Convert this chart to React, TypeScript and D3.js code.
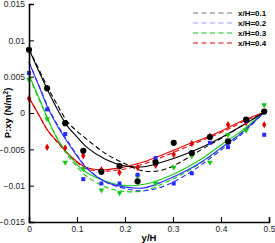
import * as d3 from 'd3'
import {useRef, useEffect} from 'react'

// marker positions along y/H
const markerX = [0, 0.0377, 0.0754, 0.1131, 0.1508, 0.1885, 0.2262, 0.2638, 0.3015, 0.3392, 0.3769, 0.4146, 0.4523, 0.49]
const blackPts = [0.0087, 0.0034, -0.0014, -0.0052, -0.0081, -0.0073, -0.0094, -0.0068, -0.0041, -0.0055, -0.0033, -0.0039, -0.0009, 0.0002]
const bluePts = [0.0055, 0.0005, -0.0029, -0.0091, -0.0097, -0.0097, -0.0085, -0.0062, -0.0097, -0.0083, -0.0041, -0.0047, -0.0011, -0.0030]
const greenPts = [0.0046, -0.0008, -0.0068, -0.0077, -0.0106, -0.0110, -0.0087, -0.0097, -0.0075, -0.0059, -0.0068, -0.0030, -0.0024, 0.0011]
const redPts = [0.0020, -0.0047, -0.0048, -0.0059, -0.0078, -0.0082, -0.0075, -0.0072, -0.0057, -0.0042, -0.0032, -0.0016, -0.0013, -0.0016]

// curve samples along y/H
const curveX = [0, 0.02, 0.04, 0.06, 0.08, 0.1, 0.12, 0.16, 0.2, 0.24, 0.28, 0.32, 0.36, 0.4, 0.44, 0.49]
const blackSolid = [0.0088, 0.0058, 0.0030, 0.0004, -0.0018, -0.0033, -0.0047, -0.0064, -0.0073, -0.0074, -0.0067, -0.0058, -0.0047, -0.0034, -0.0019, 0.0001]
const blackDash = [0.0088, 0.0061, 0.0034, 0.0010, -0.0012, -0.0025, -0.0036, -0.0056, -0.0070, -0.0080, -0.0078, -0.0066, -0.0050, -0.0035, -0.0019, 0.0001]
const blueSolid = [0.0070, 0.0038, 0.0006, -0.0019, -0.0040, -0.0059, -0.0076, -0.0095, -0.0102, -0.0103, -0.0094, -0.0082, -0.0067, -0.0048, -0.0029, 0.0001]
const blueDash = [0.0070, 0.0039, 0.0008, -0.0017, -0.0038, -0.0058, -0.0075, -0.0095, -0.0104, -0.0107, -0.0101, -0.0088, -0.0071, -0.0051, -0.0031, 0.0001]
const greenSolid = [0.0052, 0.0022, -0.0009, -0.0037, -0.0055, -0.0071, -0.0082, -0.0094, -0.0100, -0.0098, -0.0090, -0.0078, -0.0063, -0.0044, -0.0026, 0.0001]
const greenDash = [0.0050, 0.0020, -0.0010, -0.0036, -0.0058, -0.0074, -0.0087, -0.0102, -0.0108, -0.0107, -0.0097, -0.0084, -0.0068, -0.0049, -0.0028, 0.0001]
const redSolid = [0.0021, -0.0002, -0.0025, -0.0040, -0.0055, -0.0067, -0.0075, -0.0078, -0.0074, -0.0067, -0.0057, -0.0046, -0.0036, -0.0025, -0.0012, 0.0001]
const redDash = [0.0021, -0.0002, -0.0025, -0.0041, -0.0056, -0.0068, -0.0077, -0.0080, -0.0077, -0.0070, -0.0060, -0.0049, -0.0038, -0.0027, -0.0014, 0.0001]

const legendLabels = ['x/H=0.1', 'x/H=0.2', 'x/H=0.3', 'x/H=0.4']
const xTicks = [0, 0.1, 0.2, 0.3, 0.4, 0.5]
const yTicks = [-0.015, -0.01, -0.005, 0, 0.005, 0.01, 0.015]

const svgWidth = 275
const svgHeight = 243
const margin = {left: 29, right: 6, top: 4, bottom: 21}
const font = 'Liberation Sans, Arial, sans-serif'

const App: React.FC = () => {
  const svgRef = useRef(null)

  const drawChart = (): void => {
    const SVG = d3.select(svgRef.current)
    SVG.selectAll('*').remove()
    SVG.attr('width', svgWidth).attr('height', svgHeight)

    const xScale = d3.scaleLinear()
      .domain([0, 0.5])
      .range([margin.left, svgWidth - margin.right])
    const yScale = d3.scaleLinear()
      .domain([-0.015, 0.015])
      .range([svgHeight - margin.bottom, margin.top])

    const series = [
      {solid: blackSolid, dash: blackDash, pts: blackPts, color: '#000000', legend: '#777777', sym: d3.symbolCircle, size: 30},
      {solid: blueSolid, dash: blueDash, pts: bluePts, color: '#2a2aff', legend: '#9a9aff', sym: d3.symbolSquare, size: 16},
      {solid: greenSolid, dash: greenDash, pts: greenPts, color: '#14c814', legend: '#14c814', sym: d3.symbolTriangle, size: 14},
      {solid: redSolid, dash: redDash, pts: redPts, color: '#e00000', legend: '#e00000', sym: d3.symbolDiamond, size: 16},
    ]

    const line = d3.line<number>()
      .x((d, i) => xScale(curveX[i]))
      .y(d => yScale(d))
      .curve(d3.curveCatmullRom)

    // curves, drawn back to front
    const plot = SVG.append('g')
    series.slice().reverse().forEach(s => {
      plot.append('path').attr('d', line(s.dash)!).attr('fill', 'none')
        .attr('stroke', s.color).attr('stroke-width', 1.1).attr('stroke-dasharray', '5,3')
      plot.append('path').attr('d', line(s.solid)!).attr('fill', 'none')
        .attr('stroke', s.color).attr('stroke-width', 1.1)
    })

    series.slice().reverse().forEach(s => {
      plot.selectAll(null)
        .data(s.pts)
        .enter()
        .append('path')
        .attr('d', d3.symbol().type(s.sym).size(s.size)()!)
        .attr('transform', (d, i) => `translate(${xScale(markerX[i])},${yScale(d)})` + (s.sym === d3.symbolTriangle ? ' rotate(180)' : ''))
        .attr('fill', s.color)
    })

    // axes with inward ticks
    const xAxis = d3.axisBottom(xScale).tickValues(xTicks).tickSize(-5).tickPadding(4)
      .tickFormat(d => d3.format('')(+d))
    const xMinor = d3.axisBottom(xScale).tickValues(d3.range(0, 0.5001, 0.02)).tickSize(-3).tickFormat(() => '')
    const yAxis = d3.axisLeft(yScale).tickValues(yTicks).tickSize(-5).tickPadding(4)
      .tickFormat(d => d3.format('')(+(+d).toFixed(3)))
    const yMinor = d3.axisLeft(yScale).tickValues(d3.range(-0.015, 0.01501, 0.001)).tickSize(-3).tickFormat(() => '')

    const gx = SVG.append('g').attr('transform', `translate(0,${svgHeight - margin.bottom})`)
    gx.call(xMinor)
    gx.call(xAxis)
    const gy = SVG.append('g').attr('transform', `translate(${margin.left},0)`)
    gy.call(yMinor)
    gy.call(yAxis)

    SVG.selectAll('.domain').attr('stroke', '#000').attr('stroke-width', 1.6)
    SVG.selectAll('.tick line').attr('stroke', '#000').attr('stroke-width', 1)
    SVG.selectAll('.tick text').attr('font-family', font).attr('font-size', 8.5).attr('fill', '#222')

    SVG.append('text')
      .attr('x', xScale(0.25)).attr('y', 241)
      .attr('text-anchor', 'middle')
      .attr('font-family', font).attr('font-size', 9.5).attr('font-weight', 'bold')
      .text('y/H')

    const yTitle = SVG.append('text')
      .attr('transform', `translate(11,${yScale(0)}) rotate(-90)`)
      .attr('text-anchor', 'middle')
      .attr('font-family', font).attr('font-size', 9.5).attr('font-weight', 'bold')
    yTitle.append('tspan').text('P:xy (N/m')
    yTitle.append('tspan').attr('dy', -3).attr('font-size', 6.5).text('2')
    yTitle.append('tspan').attr('dy', 3).text(')')

    // legend
    const legend = SVG.append('g')
    legendLabels.forEach((label, i) => {
      const y = 13 + i * 10
      legend.append('line')
        .attr('x1', 193).attr('x2', 232).attr('y1', y).attr('y2', y)
        .attr('stroke', series[i].legend).attr('stroke-width', 1.1).attr('stroke-dasharray', '5,3.5')
      legend.append('text')
        .attr('x', 238).attr('y', y + 3)
        .attr('font-family', font).attr('font-size', 8).attr('font-weight', 'bold')
        .text(label)
    })
  }

  useEffect((): void => drawChart(), [])

  return <svg ref={svgRef} style={{position: 'absolute', left: 0, top: 0}}></svg>
}

export default App
